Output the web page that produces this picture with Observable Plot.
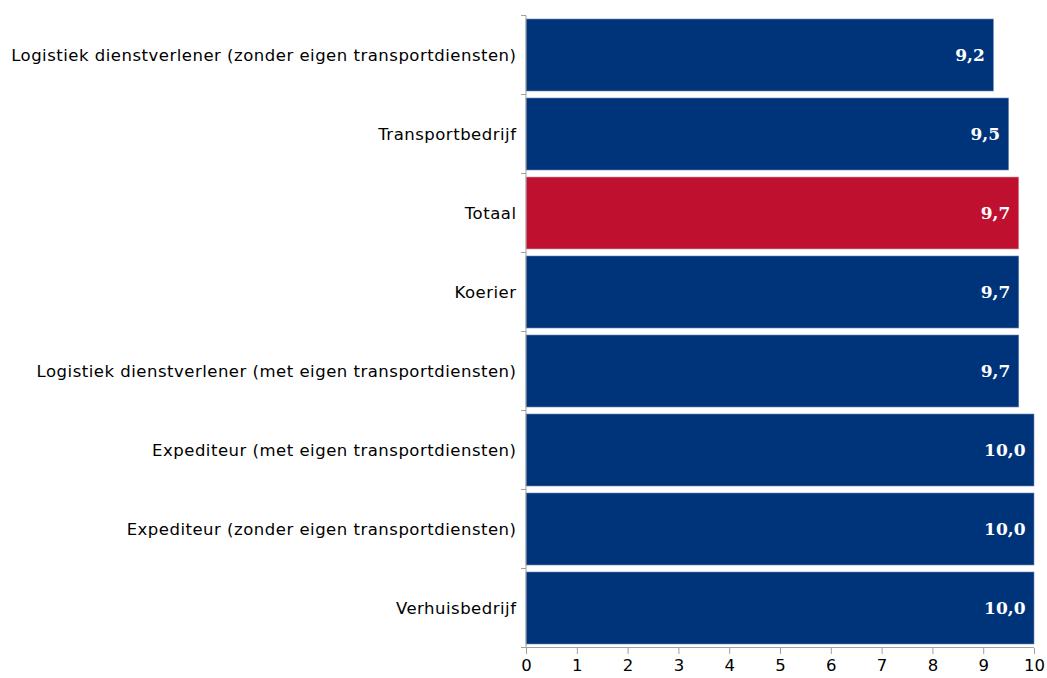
<!DOCTYPE html>
<html>
<head>
<meta charset="utf-8">
<script src="https://cdn.jsdelivr.net/npm/d3@7"></script>
<script src="https://cdn.jsdelivr.net/npm/@observablehq/plot@0.6"></script>
<style>
  html, body { margin: 0; padding: 0; background: #fff; }
  #chart svg { display: block; }
</style>
</head>
<body>
<div id="chart"></div>
<script>
const categories = [
  "Logistiek dienstverlener (zonder eigen transportdiensten)",
  "Transportbedrijf",
  "Totaal",
  "Koerier",
  "Logistiek dienstverlener (met eigen transportdiensten)",
  "Expediteur (met eigen transportdiensten)",
  "Expediteur (zonder eigen transportdiensten)",
  "Verhuisbedrijf"
];
const values = [9.2, 9.5, 9.7, 9.7, 9.7, 10.0, 10.0, 10.0];
const highlight = ["Totaal"];
const xTicks = [0, 1, 2, 3, 4, 5, 6, 7, 8, 9, 10];

const data = categories.map((c, i) => ({ category: c, value: values[i], hi: highlight.includes(c) }));
const fmt = v => v.toFixed(1).replace(".", ",");

const axisLines = (index, scales) => {
  const y = scales.y;
  const step = y.step();
  const half = (step - y.bandwidth()) / 2;
  const x0 = scales.x(0), x1 = scales.x(10);
  const g = d3.create("svg:g").attr("stroke", "#a0a0a0").attr("stroke-width", 1);
  const starts = categories.map(c => y(c) - half);
  starts.push(y(categories[categories.length - 1]) + y.bandwidth() + half);
  for (const s of starts) {
    g.append("line").attr("x1", x0 - 5).attr("x2", x0).attr("y1", s).attr("y2", s);
  }
  const top = starts[0], bottom = starts[starts.length - 1];
  g.append("line").attr("x1", x0).attr("x2", x0).attr("y1", top).attr("y2", bottom);
  g.append("line").attr("x1", x0).attr("x2", x1).attr("y1", bottom).attr("y2", bottom);
  return g.node();
};

const chart = Plot.plot({
  width: 1047,
  height: 678,
  marginLeft: 526,
  marginRight: 13,
  marginTop: 15,
  marginBottom: 30,
  style: { fontFamily: "DejaVu Sans, Verdana, sans-serif", fontSize: "16.5px", color: "#000", background: "#fff" },
  x: { domain: [0, 10], ticks: xTicks, tickFormat: d => String(d) },
  y: { domain: categories, paddingInner: 0.09, paddingOuter: 0.045, align: 0.5 },
  marks: [
    Plot.barX(data, {
      y: "category", x: "value",
      fill: d => d.hi ? "#c0102f" : "#00347a",
      stroke: d => d.hi ? "#d9a0aa" : "#6b88b5", strokeWidth: 0.6
    }),
    Plot.text(data, {
      y: "category", x: "value", text: d => fmt(d.value),
      textAnchor: "end", dx: -9, fill: "#fff",
      fontFamily: "DejaVu Serif, Liberation Serif, serif", fontWeight: "bold", fontSize: 17
    }),
    Plot.axisY({ tickSize: 0, tickPadding: 10, label: null, fontSize: 16.5, style: "letter-spacing:0.5px" }),
    Plot.axisX({ ticks: xTicks, tickSize: 6, tickPadding: 5, label: null, stroke: "#a0a0a0", tickFormat: d => String(d), fontSize: 16.5 }),
    axisLines
  ]
});
d3.select(chart).selectAll("[aria-label='y-axis tick label'] text").style("letter-spacing", "0.5px");
document.getElementById("chart").appendChild(chart);
</script>
</body>
</html>
